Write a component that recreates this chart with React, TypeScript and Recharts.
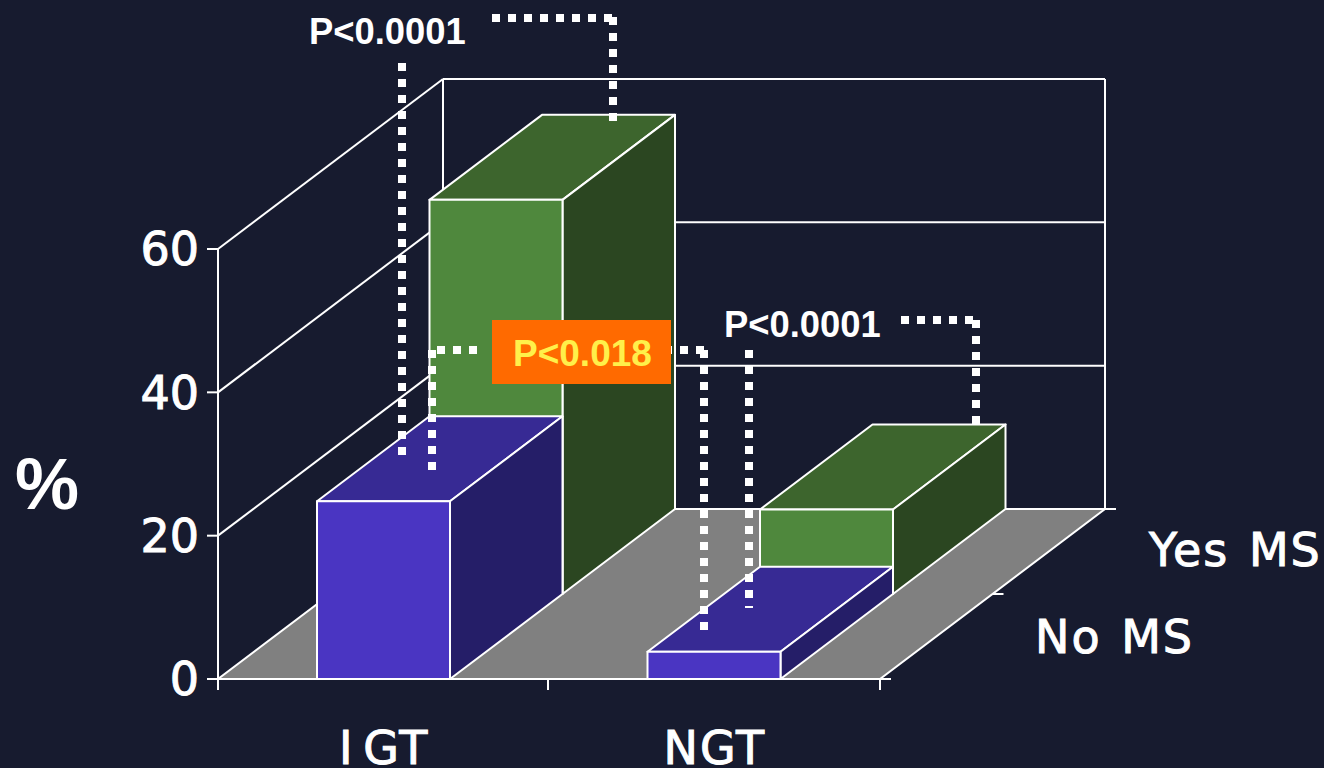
import { Bar, BarChart, XAxis, YAxis } from 'recharts';

const categories = ['I GT', 'NGT'];
const noMs = [24.8, 3.8];
const yesMs = [55, 11.8];
const yTicks = [0, 20, 40, 60];

const chartData = categories.map((name, i) => ({
	name,
	noMs: noMs[i],
	yesMs: yesMs[i],
}));

const BG = '#171b2f';
const EDGE = '#ffffff';
const LABEL_FONT = '"DejaVu Sans", sans-serif';
const P_FONT = '"Liberation Sans", Arial, sans-serif';

// plot box on the page
const LEFT = 218;
const RIGHT = 880;
const TOP = 249;
const BOTTOM = 679;
// floor depth, one series row is half of it
const DEPTH_X = 225;
const DEPTH_Y = 170;
const ROW_X = DEPTH_X / 2;
const ROW_Y = DEPTH_Y / 2;

const GREEN = { front: '#4f883d', top: '#3d652d', side: '#2b4621' };
const PURPLE = { front: '#4a35c2', top: '#372a94', side: '#251e68' };

const valueY = (v: number) => BOTTOM - (v / 60) * (BOTTOM - TOP);

// dotted significance brackets: [x1, y1, x2, y2]
const brackets = [
	[402, 63, 402, 455],
	[492, 18, 612, 18],
	[613, 17, 613, 122],
	[437, 350, 477, 350],
	[432, 350, 432, 470],
	[664, 350, 704, 350],
	[704, 350, 704, 630],
	[749, 350, 749, 608],
	[901, 320, 973, 320],
	[976, 320, 976, 424],
];

const Box = ({ x, y, width, height, faces, dx = 0, dy = 0 }: any) => {
	const x0 = x + dx;
	const y0 = y + dy;
	const x1 = x0 + width;
	const y1 = y0 + height;
	const line = { stroke: EDGE, strokeWidth: 2, strokeLinejoin: 'round' as const };
	return (
		<g>
			<polygon
				points={`${x0},${y0} ${x1},${y0} ${x1 + ROW_X},${y0 - ROW_Y} ${x0 + ROW_X},${y0 - ROW_Y}`}
				fill={faces.top}
				{...line}
			/>
			<polygon
				points={`${x1},${y0} ${x1 + ROW_X},${y0 - ROW_Y} ${x1 + ROW_X},${y1 - ROW_Y} ${x1},${y1}`}
				fill={faces.side}
				{...line}
			/>
			<rect x={x0} y={y0} width={width} height={height} fill={faces.front} {...line} />
		</g>
	);
};

const Walls = () => {
	const wall = { stroke: EDGE, strokeWidth: 2, fill: 'none' };
	const backX = LEFT + DEPTH_X;
	const backRight = RIGHT + DEPTH_X;
	return (
		<g>
			<polygon
				points={`${LEFT},${BOTTOM} ${RIGHT},${BOTTOM} ${backRight},${BOTTOM - DEPTH_Y} ${backX},${BOTTOM - DEPTH_Y}`}
				fill="#808080"
				stroke={EDGE}
				strokeWidth={2}
			/>
			{yTicks.map((t) => {
				const y = valueY(t);
				return (
					<g key={t}>
						<line x1={LEFT - 11} y1={y} x2={LEFT} y2={y} {...wall} />
						{t > 0 && <line x1={LEFT} y1={y} x2={backX} y2={y - DEPTH_Y} {...wall} />}
						{t > 0 && (
							<line x1={backX} y1={y - DEPTH_Y} x2={backRight} y2={y - DEPTH_Y} {...wall} />
						)}
					</g>
				);
			})}
			<line x1={LEFT} y1={TOP} x2={LEFT} y2={BOTTOM} {...wall} />
			<line x1={backX} y1={TOP - DEPTH_Y} x2={backX} y2={BOTTOM - DEPTH_Y} {...wall} />
			<line x1={backRight} y1={TOP - DEPTH_Y} x2={backRight} y2={BOTTOM - DEPTH_Y} {...wall} />
			{[LEFT, (LEFT + RIGHT) / 2 - 1, RIGHT].map((x) => (
				<line key={x} x1={x} y1={BOTTOM} x2={x} y2={BOTTOM + 11} {...wall} />
			))}
			{[0, 0.5, 1].map((f) => {
				const x = RIGHT + DEPTH_X * f;
				const y = BOTTOM - DEPTH_Y * f;
				return <line key={f} x1={x} y1={y} x2={x + 11} y2={y} {...wall} />;
			})}
		</g>
	);
};

const labelStyle = {
	fill: '#fff',
	stroke: '#fff',
	strokeWidth: 1,
	fontFamily: LABEL_FONT,
	fontSize: 46,
};

const CategoryTick = ({ x, y, payload }: any) => (
	<text x={x + 1} y={y + 77} textAnchor="middle" wordSpacing={-8} letterSpacing={2} {...labelStyle}>
		{payload.value}
	</text>
);

const pStyle = {
	fontFamily: P_FONT,
	fontSize: 36.4,
	fontWeight: 700,
};

export default function App() {
	return (
		<div
			style={{
				position: 'fixed',
				left: 0,
				top: 0,
				width: 1324,
				height: 768,
				background: BG,
				overflow: 'hidden',
			}}
		>
			<BarChart
				width={1324}
				height={768}
				data={chartData}
				barSize={133}
				barGap={-133}
				margin={{ left: LEFT - 80, right: 1324 - RIGHT + 1, top: TOP, bottom: 0 }}
			>
				<Walls />
				<XAxis
					dataKey="name"
					height={768 - BOTTOM}
					axisLine={{ stroke: EDGE, strokeWidth: 2 }}
					tickLine={false}
					tick={<CategoryTick />}
					interval={0}
				/>
				<YAxis
					width={80}
					domain={[0, 60]}
					ticks={yTicks}
					axisLine={false}
					tickLine={false}
					tickMargin={19}
					tick={labelStyle}
					tickSize={0}
				/>
				<Bar
					dataKey="yesMs"
					isAnimationActive={false}
					shape={(props: any) => (
						<Box {...props} faces={GREEN} dx={ROW_X} dy={-ROW_Y} />
					)}
				/>
				<Bar
					dataKey="noMs"
					isAnimationActive={false}
					shape={(props: any) => <Box {...props} faces={PURPLE} />}
				/>
			</BarChart>
			{/* brackets and captions sit on top of the bars */}
			<svg
				width={1324}
				height={768}
				style={{ position: 'absolute', left: 0, top: 0, pointerEvents: 'none' }}
			>
				{brackets.map(([x1, y1, x2, y2], i) => (
					<line
						key={i}
						x1={x1}
						y1={y1}
						x2={x2}
						y2={y2}
						stroke="#fff"
						strokeWidth={8}
						strokeDasharray="8 8"
					/>
				))}
				<rect x={492} y={320} width={179} height={64} fill="#ff6a00" />
				<text x={513} y={366} fill="#fff04a" fontSize={37} fontFamily={P_FONT} fontWeight={700}>
					P&lt;0.018
				</text>
				<text x={309} y={44} fill="#fff" {...pStyle}>
					P&lt;0.0001
				</text>
				<text x={724} y={337} fill="#fff" {...pStyle}>
					P&lt;0.0001
				</text>
				<text x={1149} y={566} wordSpacing={3} letterSpacing={2} {...labelStyle}>
					Yes MS
				</text>
				<text x={1035} y={653} wordSpacing={3} letterSpacing={2} {...labelStyle}>
					No MS
				</text>
				<text x={15} y={509} fill="#fff" fontFamily={P_FONT} fontSize={72} fontWeight={700}>
					%
				</text>
			</svg>
		</div>
	);
}
